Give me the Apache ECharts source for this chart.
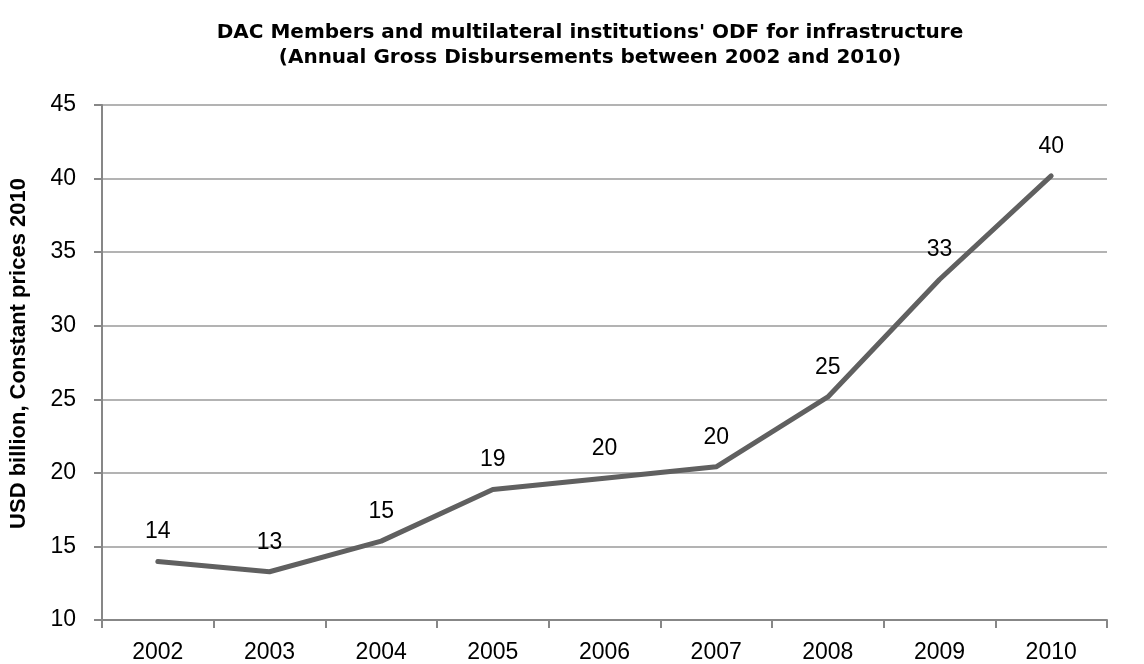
<!DOCTYPE html>
<html>
<head>
<meta charset="utf-8">
<script src="https://cdn.jsdelivr.net/npm/echarts@6/dist/echarts.min.js"></script>
<style>
html,body{margin:0;padding:0;background:#fff;}
#chart{width:1144px;height:664px;}
</style>
</head>
<body>
<div id="chart"></div>
<script>
const titleText = "DAC Members and multilateral institutions' ODF for infrastructure\n(Annual Gross Disbursements between 2002 and 2010)";
const yAxisName = "USD billion, Constant prices 2010";
const years = ["2002","2003","2004","2005","2006","2007","2008","2009","2010"];
const odfValues = [13.97, 13.28, 15.36, 18.87, 19.64, 20.41, 25.16, 33.14, 40.18];
const yMin = 10, yMax = 45, yStep = 5;

const chart = echarts.init(document.getElementById('chart'), null, {renderer: 'canvas'});
const font = "'Liberation Sans', Arial, sans-serif";
chart.setOption({
  animation: false,
  backgroundColor: '#ffffff',
  title: {
    text: titleText,
    left: 585,
    top: 15,
    textAlign: 'center',
    textStyle: {fontFamily: "'DejaVu Sans', sans-serif", fontSize: 20, fontWeight: 'bold', color: '#000', lineHeight: 25}
  },
  grid: {left: 99, top: 105, width: 1008, height: 517, containLabel: false},
  xAxis: {
    type: 'category',
    data: years,
    boundaryGap: true,
    axisLine: {lineStyle: {color: '#878787', width: 2}},
    axisTick: {show: true, length: 8, lineStyle: {color: '#878787', width: 2}},
    axisLabel: {fontFamily: font, fontSize: 23, color: '#000', margin: 21},
    splitLine: {show: false}
  },
  yAxis: {
    type: 'value',
    min: yMin, max: yMax, interval: yStep,
    name: yAxisName,
    nameLocation: 'middle',
    nameGap: 72,
    nameTextStyle: {fontFamily: font, fontSize: 22, fontWeight: 'bold', color: '#000', padding: [0, 0, 0, 18]},
    axisLine: {show: true, lineStyle: {color: '#878787', width: 2}},
    axisTick: {show: true, length: 8, lineStyle: {color: '#878787', width: 2}},
    axisLabel: {fontFamily: font, fontSize: 23, color: '#000', margin: 26},
    splitLine: {show: true, lineStyle: {color: '#9a9a9a', width: 1.5}}
  },
  series: [{
    type: 'line',
    data: odfValues,
    symbol: 'circle',
    symbolSize: 2,
    showSymbol: true,
    itemStyle: {color: 'rgba(0,0,0,0)', borderWidth: 0},
    lineStyle: {color: '#606060', width: 5, cap: 'round', join: 'round'},
    label: {
      show: true,
      position: 'top',
      distance: 17,
      fontFamily: font,
      fontSize: 23,
      color: '#000',
      opacity: 1,
      formatter: function (p) { return String(Math.round(p.value)); }
    },
    labelLayout: {hideOverlap: false}
  }]
});
</script>
</body>
</html>
